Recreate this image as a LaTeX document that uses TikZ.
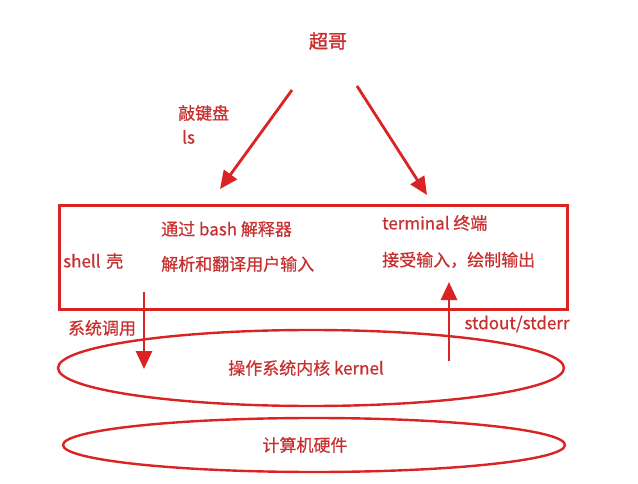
\documentclass[tikz,border=0pt]{standalone}
\usepackage{fontspec}
\setmainfont{Noto Sans CJK SC}[FakeBold=0.6]
\newfontfamily\heavy{Noto Sans CJK SC}[FakeBold=1.6]
\usetikzlibrary{arrows.meta,shapes.geometric,positioning}
\definecolor{ln}{RGB}{218,36,36}
\definecolor{tx}{RGB}{200,48,48}
\tikzset{
  lb/.style={font=\fontsize{17}{20}\selectfont,text=tx,inner sep=0pt},
  lbb/.style={font=\fontsize{19}{22}\selectfont\heavy,text=tx,inner sep=0pt},
  frm/.style={draw=ln,line width=2.6pt},
  orb/.style={ellipse,draw=ln,line width=2.4pt,inner sep=0pt},
  arr/.style={-{Triangle[length=18pt,width=16pt]},draw=ln,fill=ln,line width=2.8pt},
}

\begin{document}
\begin{tikzpicture}[x=1pt,y=-1pt]
\useasboundingbox[fill=white] (0,0) rectangle (638,484);
% ---------------- the user on top
\node[lbb] (user) at (328,41) {超哥};
\node[lb,anchor=west] (keys) at (178,113) {敲键盘};
\node[lb,anchor=west] (ls) at (182,137) {ls};
\coordinate (ua) at (292,90);  \coordinate (ta) at (220,189);
\coordinate (ub) at (357,86);  \coordinate (tb) at (427,195);
\draw[arr] (ua) -- (ta);
\draw[arr] (ub) -- (tb);
% ---------------- shell and terminal
\node[frm,minimum width=508pt,minimum height=104pt,anchor=north west] (shellbox) at (58,204) {};
\node[lb,anchor=west] (shell) at (63,261) {shell\,\,壳};
\node[lb,anchor=west] (bash) at (161,229) {通过 bash 解释器};
\node[lb,anchor=west] (parse) at (161,264) {解析和翻译用户输入};
\node[lb,anchor=west] (term) at (382,223) {terminal 终端};
\node[lb,anchor=west] (draw) at (382,260) {接受输入，绘制输出};
% ---------------- kernel and hardware
\node[orb,minimum width=506pt,minimum height=76pt] (kernel) at (311,368) {};
\node[lb] (kname) at (306,368) {操作系统内核 kernel};
\node[orb,minimum width=502pt,minimum height=54pt] (hw) at (314,445) {};
\node[lb] (hname) at (305,445) {计算机硬件};
% ---------------- calls between them
\coordinate (sa) at (144,292);  \coordinate (sb) at (144,369);
\coordinate (oa) at (449,361);  \coordinate (ob) at (449,282);
\draw[arr] (sa) -- (sb);
\draw[arr] (oa) -- (ob);
\node[lb] (sys) at (102,328) {系统调用};
\node[lb] (out) at (517,324) {stdout/stderr};
\end{tikzpicture}
\end{document}
